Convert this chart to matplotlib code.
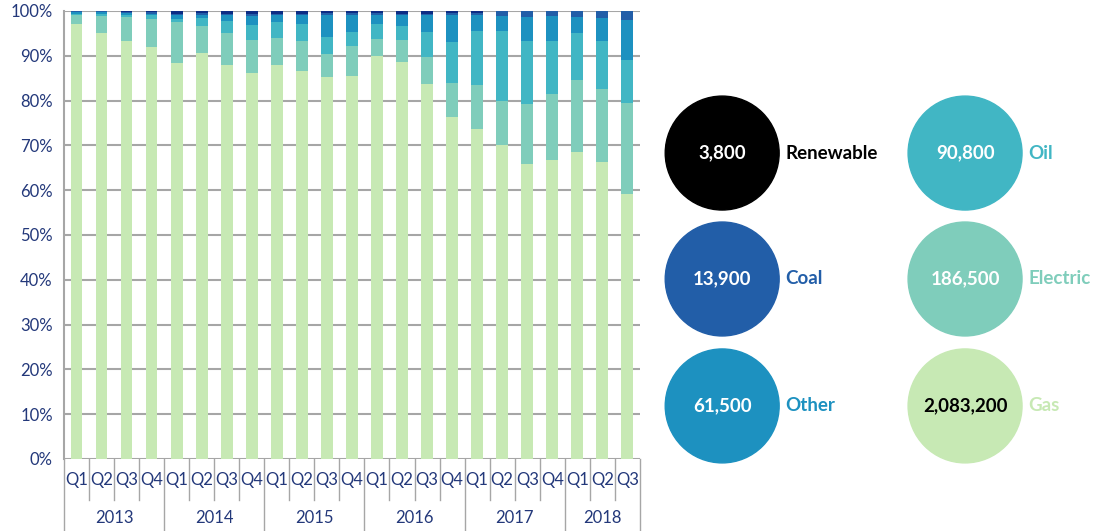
import matplotlib.pyplot as plt
import numpy as np
from matplotlib.patches import Circle
from matplotlib.transforms import blended_transform_factory

plt.rcParams['font.family'] = ['Lato', 'DejaVu Sans']

# quarters 2013 Q1 .. 2018 Q3
quarters = ["Q1", "Q2", "Q3", "Q4"] * 5 + ["Q1", "Q2", "Q3"]
years = ["2013", "2014", "2015", "2016", "2017", "2018"]
year_counts = [4, 4, 4, 4, 4, 3]

# share of each fuel per quarter (%)
gas = [97.0, 95.1, 93.2, 92.0, 88.3, 90.6, 88.0, 86.1,
       88.0, 86.7, 85.2, 85.6, 89.9, 88.6, 83.6, 76.3,
       73.7, 70.0, 65.9, 66.8, 68.6, 66.4, 59.2]
electric = [2.0, 3.7, 5.4, 6.2, 9.2, 6.0, 7.1, 7.5,
            6.0, 6.5, 5.2, 6.5, 3.9, 5.0, 6.1, 7.7,
            9.7, 9.8, 13.3, 14.6, 16.0, 16.2, 20.3]
oil = [0.3, 0.5, 0.6, 0.8, 0.8, 1.8, 2.6, 3.3,
       3.5, 3.8, 3.8, 3.2, 3.3, 3.0, 5.6, 9.0,
       12.1, 15.7, 14.2, 11.9, 10.5, 10.8, 9.6]
other = [0.5, 0.5, 0.4, 0.4, 0.7, 0.8, 1.3, 1.9,
         1.5, 2.0, 5.0, 3.9, 2.1, 2.4, 3.7, 6.2,
         3.7, 3.3, 5.2, 5.5, 3.5, 5.0, 8.9]
coal = [0.2, 0.2, 0.2, 0.3, 0.4, 0.4, 0.4, 0.5,
        0.4, 0.4, 0.3, 0.3, 0.3, 0.4, 0.4, 0.3,
        0.3, 1.2, 1.4, 1.2, 1.4, 1.6, 2.0]
renewable = [0.0, 0.0, 0.2, 0.3, 0.6, 0.4, 0.6, 0.7,
             0.6, 0.6, 0.5, 0.5, 0.5, 0.6, 0.6, 0.5,
             0.5, 0.0, 0.0, 0.0, 0.0, 0.0, 0.0]

# totals shown in the bubbles
bubble_names = ["Renewable", "Coal", "Other", "Oil", "Electric", "Gas"]
bubble_totals = [3800, 13900, 61500, 90800, 186500, 2083200]

series = [gas, electric, oil, other, coal, renewable]
bar_colors = ["#C7E9B4", "#7FCDBB", "#41B6C4", "#1D91C0", "#225EA8", "#0C2C84"]
bubble_colors = {"Renewable": "#000000", "Coal": "#225EA8", "Other": "#1D91C0",
                 "Oil": "#41B6C4", "Electric": "#7FCDBB", "Gas": "#C7E9B4"}
navy = "#23387A"
grid_c = "#A6A6A6"

fig = plt.figure(figsize=(10.97, 5.31), dpi=100)
ax = fig.add_axes([0.0583, 0.1356, 0.525, 0.8437])

x = np.arange(len(quarters))
bottom = np.zeros(len(quarters))
for vals, col in zip(series, bar_colors):
    vals = np.array(vals)
    ax.bar(x, vals, bottom=bottom, width=0.47, color=col, zorder=3)
    bottom += vals

ax.set_xlim(-0.5, len(quarters) - 0.5)
ax.set_ylim(0, 100)
ax.set_yticks(np.arange(0, 101, 10))
ax.set_yticklabels([f"{v}%" for v in range(0, 101, 10)], color=navy, fontsize=12)
ax.yaxis.grid(True, color=grid_c, linewidth=1.5, zorder=0)
ax.tick_params(axis="y", length=0, pad=8)
ax.tick_params(axis="x", length=0, labelbottom=False)
for s in ["top", "right", "bottom"]:
    ax.spines[s].set_visible(False)
ax.spines["left"].set_color(grid_c)
ax.spines["left"].set_linewidth(1.5)

# two-level category axis
tr = blended_transform_factory(ax.transData, ax.transAxes)
for i, q in enumerate(quarters):
    ax.text(i, -0.047, q, transform=tr, ha="center", va="center",
            color=navy, fontsize=12)
bounds = np.cumsum([0] + year_counts) - 0.5
for b in np.arange(-0.5, len(quarters), 1.0):
    low = -0.161 if np.isclose(bounds, b).any() else -0.092
    ax.plot([b, b], [0, low], transform=tr, color=grid_c, linewidth=1,
            clip_on=False)
for yr, lo, hi in zip(years, bounds[:-1], bounds[1:]):
    ax.text((lo + hi) / 2, -0.132, yr, transform=tr, ha="center",
            va="center", color=navy, fontsize=12)

# bubbles on the right
bx = fig.add_axes([0.59, 0.0, 0.41, 1.0])
bx.set_xlim(0, 450)
bx.set_ylim(531, 0)
bx.set_aspect("equal")
bx.axis("off")
col_x = [722 - 647, 965 - 647]
row_y = [153, 279, 406]
for k, (name, tot) in enumerate(zip(bubble_names, bubble_totals)):
    cx = col_x[k // 3]
    cy = row_y[k % 3]
    c = bubble_colors[name]
    bx.add_patch(Circle((cx, cy), 57, color=c))
    bx.text(cx, cy, f"{tot:,}", ha="center", va="center", fontsize=13.5,
            fontweight="bold", color="black" if name == "Gas" else "white")
    bx.text(cx + 63, cy, name, ha="left", va="center", fontsize=13.5,
            fontweight="bold", color=c)

fig.savefig("out.png", dpi=100)
